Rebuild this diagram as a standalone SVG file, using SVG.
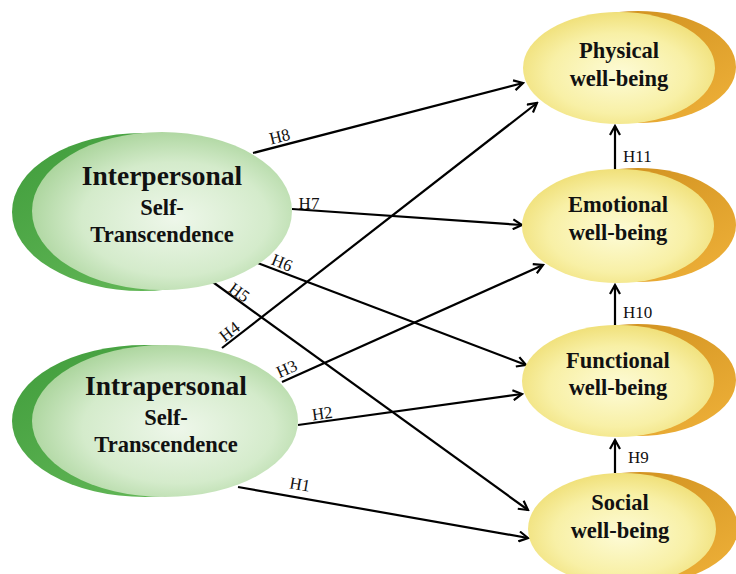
<svg xmlns="http://www.w3.org/2000/svg" width="736" height="574" viewBox="0 0 736 574">
<defs>
<radialGradient id="gLight" cx="0.55" cy="0.55" r="0.6">
<stop offset="0" stop-color="#eef7ea"/>
<stop offset="0.6" stop-color="#d4ebcb"/>
<stop offset="1" stop-color="#a6d297"/>
</radialGradient>
<linearGradient id="gDark" x1="0" y1="0" x2="1" y2="1">
<stop offset="0" stop-color="#3f9c3b"/>
<stop offset="1" stop-color="#6dbf5f"/>
</linearGradient>
<radialGradient id="yLight" cx="0.5" cy="0.55" r="0.6">
<stop offset="0" stop-color="#fdfbd6"/>
<stop offset="0.6" stop-color="#f8f0a6"/>
<stop offset="1" stop-color="#eedc6e"/>
</radialGradient>
<linearGradient id="yDark" x1="0" y1="0" x2="1" y2="1">
<stop offset="0" stop-color="#c98a1a"/>
<stop offset="1" stop-color="#f0b23a"/>
</linearGradient>
<marker id="arr" viewBox="0 0 12 12" refX="10" refY="6" markerWidth="12" markerHeight="12" markerUnits="userSpaceOnUse" orient="auto">
<path d="M1,1 L10,6 L1,11" fill="none" stroke="#000" stroke-width="2.2"/>
</marker>
<style>
.con{stroke:#000;stroke-width:2.2;fill:none;marker-end:url(#arr)}
.lbl{font-family:"Liberation Serif","Times New Roman",serif;font-size:17px;fill:#111}
.big{font-family:"Liberation Serif","Times New Roman",serif;font-weight:bold;font-size:27.5px;fill:#111;text-anchor:middle}
.mid{font-family:"Liberation Serif","Times New Roman",serif;font-weight:bold;font-size:22.5px;fill:#111;text-anchor:middle}
.yt{font-family:"Liberation Serif","Times New Roman",serif;font-weight:bold;font-size:22.5px;fill:#111;text-anchor:middle}
</style>
</defs>
<rect width="736" height="574" fill="#fff"/>

<g id="connectors">
<line class="con" x1="253" y1="153" x2="523" y2="83"/>
<line class="con" x1="222" y1="348" x2="537" y2="103"/>
<line class="con" x1="292" y1="209" x2="522" y2="225"/>
<line class="con" x1="282" y1="382" x2="543" y2="265"/>
<line class="con" x1="255" y1="262" x2="526" y2="365"/>
<line class="con" x1="210" y1="280" x2="528" y2="510"/>
<line class="con" x1="298" y1="425" x2="522" y2="394"/>
<line class="con" x1="238" y1="487" x2="528" y2="538"/>
<line class="con" x1="615" y1="170" x2="615" y2="126"/>
<line class="con" x1="615" y1="325" x2="615" y2="285"/>
<line class="con" x1="615" y1="473" x2="615" y2="440"/>
<text class="lbl" transform="translate(281,142) rotate(-14)" text-anchor="middle">H8</text>
<text class="lbl" x="309" y="209" text-anchor="middle">H7</text>
<text class="lbl" transform="translate(280,268) rotate(22)" text-anchor="middle">H6</text>
<text class="lbl" transform="translate(236,297) rotate(36)" text-anchor="middle">H5</text>
<text class="lbl" transform="translate(233,336) rotate(-38)" text-anchor="middle">H4</text>
<text class="lbl" transform="translate(289,374) rotate(-24)" text-anchor="middle">H3</text>
<text class="lbl" transform="translate(323,419) rotate(-8)" text-anchor="middle">H2</text>
<text class="lbl" transform="translate(299,490) rotate(10)" text-anchor="middle">H1</text>
<text class="lbl" x="623" y="162">H11</text>
<text class="lbl" x="623" y="318">H10</text>
<text class="lbl" x="628" y="463">H9</text>
</g>

<g id="interpersonal">
<ellipse cx="142" cy="212" rx="130" ry="79" fill="url(#gDark)"/>
<ellipse cx="162" cy="211" rx="130" ry="79" fill="url(#gLight)"/>
<text class="big" x="162" y="185">Interpersonal</text>
<text class="mid" x="162" y="215">Self-</text>
<text class="mid" x="162" y="242">Transcendence</text>
</g>

<g id="intrapersonal">
<ellipse cx="145" cy="421" rx="133" ry="76" fill="url(#gDark)"/>
<ellipse cx="165" cy="421" rx="133" ry="76" fill="url(#gLight)"/>
<text class="big" x="166" y="395">Intrapersonal</text>
<text class="mid" x="166" y="425">Self-</text>
<text class="mid" x="166" y="452">Transcendence</text>
</g>

<g id="physical">
<ellipse cx="638" cy="67" rx="98" ry="56" fill="url(#yDark)"/>
<ellipse cx="619" cy="68" rx="96" ry="56" fill="url(#yLight)"/>
<text class="yt" x="619" y="58">Physical</text>
<text class="yt" x="619" y="86">well-being</text>
</g>

<g id="emotional">
<ellipse cx="638" cy="225" rx="98" ry="57" fill="url(#yDark)"/>
<ellipse cx="618" cy="226" rx="96" ry="57" fill="url(#yLight)"/>
<text class="yt" x="618" y="212">Emotional</text>
<text class="yt" x="618" y="240">well-being</text>
</g>

<g id="functional">
<ellipse cx="638" cy="380" rx="98" ry="56" fill="url(#yDark)"/>
<ellipse cx="618" cy="381" rx="96" ry="56" fill="url(#yLight)"/>
<text class="yt" x="618" y="368">Functional</text>
<text class="yt" x="618" y="395">well-being</text>
</g>

<g id="social">
<ellipse cx="640" cy="528" rx="98" ry="56" fill="url(#yDark)"/>
<ellipse cx="622" cy="529" rx="94" ry="56" fill="url(#yLight)"/>
<text class="yt" x="620" y="510">Social</text>
<text class="yt" x="620" y="538">well-being</text>
</g>
</svg>
